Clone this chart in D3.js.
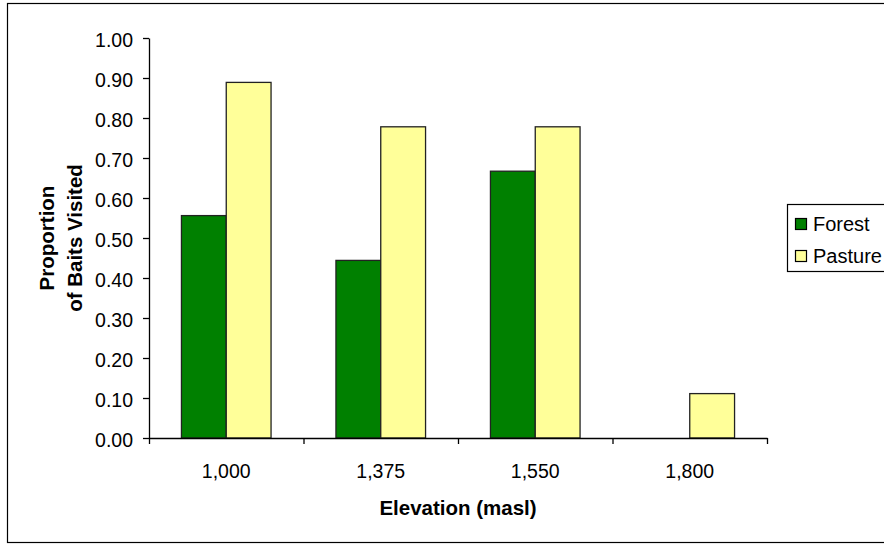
<!DOCTYPE html>
<html>
<head>
<meta charset="utf-8">
<script src="https://cdn.jsdelivr.net/npm/d3@7"></script>
<style>
  html, body { margin: 0; padding: 0; background: #fff; }
  svg { display: block; font-family: "Liberation Sans", Arial, sans-serif; }
</style>
</head>
<body>
<svg id="chart" width="884" height="544"></svg>
<script>
const categories = ["1,000", "1,375", "1,550", "1,800"];
const seriesNames = ["Forest", "Pasture"];
const forestValues = [0.556, 0.444, 0.667, 0.0];
const pastureValues = [0.889, 0.778, 0.778, 0.111];
const yTicks = [0, 0.1, 0.2, 0.3, 0.4, 0.5, 0.6, 0.7, 0.8, 0.9, 1.0];
const colors = ["#008000", "#FFFF99"];

const svg = d3.select("#chart");
const plot = { left: 149, right: 767, top: 38, bottom: 438 };

// outer border
svg.append("rect")
  .attr("x", 7.5).attr("y", 3.5)
  .attr("width", 900).attr("height", 539)
  .attr("fill", "#fff").attr("stroke", "#000").attr("stroke-width", 1.2);

const data = categories.map((c, i) => ({ cat: c, values: [forestValues[i], pastureValues[i]] }));

const x0 = d3.scaleBand().domain(categories).range([plot.left, plot.right])
  .paddingInner(0.42).paddingOuter(0.21);
const x1 = d3.scaleBand().domain(seriesNames).range([0, x0.bandwidth()]).padding(0);
const y = d3.scaleLinear().domain([0, 1]).range([plot.bottom, plot.top]);

// bars
const groups = svg.append("g").selectAll("g").data(data).join("g")
  .attr("transform", d => `translate(${x0(d.cat)},0)`);
groups.selectAll("rect")
  .data(d => d.values.map((v, j) => ({ v, s: seriesNames[j], j })).filter(e => e.v > 0))
  .join("rect")
  .attr("x", e => x1(e.s))
  .attr("y", e => y(e.v))
  .attr("width", x1.bandwidth())
  .attr("height", e => y(0) - y(e.v))
  .attr("fill", e => colors[e.j])
  .attr("stroke", "#222").attr("stroke-width", 1.3);

// y axis
const yAxis = svg.append("g")
  .attr("transform", `translate(${plot.left},0)`)
  .call(d3.axisLeft(y).tickValues(yTicks).tickFormat(d3.format(".2f")).tickSize(6).tickSizeOuter(0).tickPadding(10));
yAxis.selectAll("text").attr("font-size", 19.5).attr("fill", "#000").attr("dy", "0.42em")
  .attr("font-family", "Liberation Sans, Arial, sans-serif");
yAxis.selectAll("line, path").attr("stroke", "#000").attr("stroke-width", 1.3);

// x axis: ticks at category boundaries
const bound = d3.scaleLinear().domain([0, categories.length]).range([plot.left, plot.right]);
const xAxis = svg.append("g")
  .attr("transform", `translate(0,${plot.bottom})`)
  .call(d3.axisBottom(bound).tickValues(d3.range(categories.length + 1)).tickFormat("").tickSize(6).tickSizeOuter(0));
xAxis.selectAll("line, path").attr("stroke", "#000").attr("stroke-width", 1.3);

// x labels at category centers
const xLab = svg.append("g")
  .attr("transform", `translate(0,${plot.bottom})`)
  .call(d3.axisBottom(x0).tickSize(0).tickPadding(26));
xLab.select("path").remove();
xLab.selectAll("text").attr("font-size", 19.5).attr("fill", "#000")
  .attr("font-family", "Liberation Sans, Arial, sans-serif");

// axis titles
svg.append("text")
  .attr("x", (plot.left + plot.right) / 2).attr("y", 515)
  .attr("text-anchor", "middle").attr("font-size", 20.5).attr("font-weight", "bold")
  .text("Elevation (masl)");

const yt = svg.append("text")
  .attr("transform", `translate(54,${(plot.top + plot.bottom) / 2}) rotate(-90)`)
  .attr("text-anchor", "middle").attr("font-size", 20.5).attr("font-weight", "bold");
yt.append("tspan").attr("x", 0).attr("y", 0).text("Proportion");
yt.append("tspan").attr("x", 0).attr("y", 28).text("of Baits Visited");

// legend
const lg = svg.append("g");
lg.append("rect").attr("x", 787.5).attr("y", 204.5).attr("width", 140).attr("height", 67)
  .attr("fill", "#fff").attr("stroke", "#000").attr("stroke-width", 1.2);
seriesNames.forEach((s, i) => {
  const yy = 218.5 + i * 32;
  lg.append("rect").attr("x", 795.5).attr("y", yy).attr("width", 11).attr("height", 11)
    .attr("fill", colors[i]).attr("stroke", "#000").attr("stroke-width", 1.2);
  lg.append("text").attr("x", 813).attr("y", 230.7 + i * 32.5)
    .attr("font-size", 20).attr("fill", "#000").text(s);
});
</script>
</body>
</html>
